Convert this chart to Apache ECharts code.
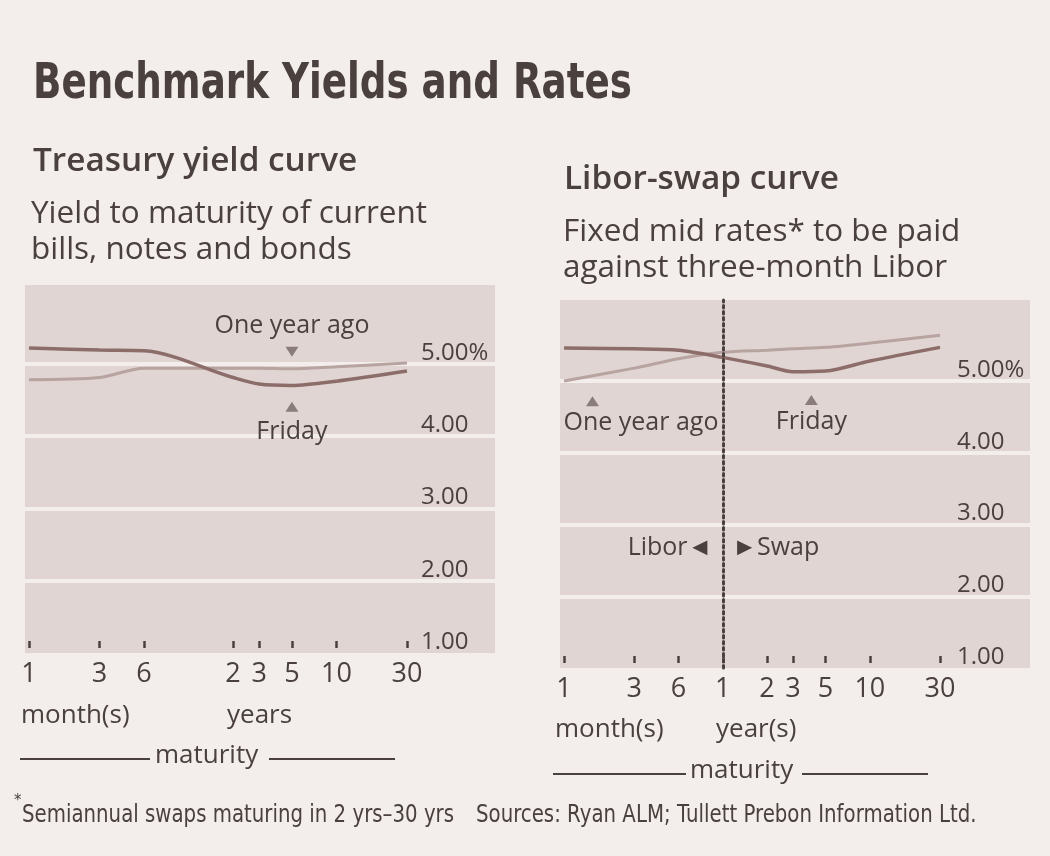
<!DOCTYPE html>
<html>
<head>
<meta charset="utf-8">
<script src="https://cdn.jsdelivr.net/npm/echarts@6/dist/echarts.min.js"></script>
<style>
html,body{margin:0;padding:0;background:#f3eeeb;}
#chart{width:1050px;height:856px;}
</style>
</head>
<body>
<div id="chart"></div>
<script>
// ---------------- DATA ----------------
// maturities in years
const treasuryMaturities = [1/12, 0.25, 0.5, 2, 3, 5, 10, 30];
const treasuryFriday     = [5.22, 5.19, 5.18, 4.81, 4.72, 4.70, 4.76, 4.90];
const treasuryYearAgo    = [4.78, 4.81, 4.94, 4.94, 4.94, 4.93, 4.96, 5.01];

const swapMaturities = [1/12, 0.25, 0.5, 1, 2, 3, 5, 10, 30];
const swapFriday     = [5.46, 5.45, 5.43, 5.33, 5.21, 5.13, 5.14, 5.28, 5.47];
const swapYearAgo    = [5.00, 5.18, 5.31, 5.40, 5.43, 5.45, 5.47, 5.53, 5.64];

const treasuryTickValues = [1/12, 0.25, 0.5, 2, 3, 5, 10, 30];
const treasuryTickLabels = ['1', '3', '6', '2', '3', '5', '10', '30'];
const swapTickValues = [1/12, 0.25, 0.5, 1, 2, 3, 5, 10, 30];
const swapTickLabels = ['1', '3', '6', '1', '2', '3', '5', '10', '30'];

const rateTicks = [1, 2, 3, 4, 5];
const rateGridLines = [2, 3, 4, 5];

// ---------------- STYLE ----------------
const ink = '#4a403e';
const paper = '#f3eeeb';
const band = '#e0d5d3';
const darkLine = '#8c6d6a';
const lightLine = '#b7a3a0';
const triColor = '#8a7c7a';

const mctx = document.createElement('canvas').getContext('2d');
function hasFont(name) {
  const s = 'mmmmwwwiiilllQQ@@';
  mctx.font = '50px monospace';
  const a = mctx.measureText(s).width;
  mctx.font = '50px "' + name + '", monospace';
  return mctx.measureText(s).width !== a;
}
const OPEN = hasFont('Open Sans') ? '"Open Sans"' : '"DejaVu Sans"';
const CONDENSED = hasFont('Liberation Sans Narrow') ? '"Liberation Sans Narrow"' : '"DejaVu Sans"';
function measure(text, family, weight, size) {
  mctx.font = weight + ' ' + size + 'px ' + family;
  return mctx.measureText(text).width;
}
function fitSize(text, family, weight, width) {
  return 100 * width / measure(text, family, weight, 100);
}

const subSize = fitSize('Libor-swap curve', OPEN, '600', 275);
const bodySize = fitSize('Yield to maturity of current', OPEN, 'normal', 396);

const titleText = 'Benchmark Yields and Rates';
const titleFont = 50;
const titleScale = 599 / measure(titleText, CONDENSED, 'bold', titleFont);
const foot1 = 'Semiannual swaps maturing in 2 yrs\u201330 yrs';
const foot2 = 'Sources: Ryan ALM; Tullett Prebon Information Ltd.';
const footFont = 25;
const footScale = 432 / measure(foot1, CONDENSED, 'normal', footFont);

function txt(x, y, text, size, weight, family, extra) {
  return Object.assign({
    type: 'text', x: x, y: y, silent: true,
    style: {
      text: text, fill: ink, fontSize: size, fontWeight: weight, fontFamily: family,
      verticalAlign: 'middle', textVerticalAlign: 'middle', align: 'left', textAlign: 'left'
    }
  }, extra || {});
}
function hline(x1, x2, y) {
  return { type: 'line', silent: true, shape: { x1: x1, y1: y, x2: x2, y2: y }, style: { stroke: ink, lineWidth: 2 } };
}

function tickLabelFormatter(vals, labels) {
  return function (v) {
    let bi = 0, bd = Infinity;
    vals.forEach(function (t, i) {
      const d = Math.abs(Math.log10(t) - Math.log10(v));
      if (d < bd) { bd = d; bi = i; }
    });
    return labels[bi];
  };
}

function xAxisCfg(gridIndex, min, max, vals, labels) {
  return {
    type: 'log', logBase: 10, gridIndex: gridIndex, min: min, max: max, offset: -5,
    axisLine: { show: false },
    axisTick: { show: true, inside: true, length: 7, customValues: vals, lineStyle: { color: ink, width: 2.5 } },
    axisLabel: {
      show: true, customValues: vals, margin: 13, fontFamily: OPEN, fontSize: 27, color: ink,
      formatter: tickLabelFormatter(vals, labels)
    },
    splitLine: { show: false }, minorTick: { show: false }, minorSplitLine: { show: false }
  };
}
function yAxisCfg(gridIndex, max, margin) {
  return {
    type: 'value', gridIndex: gridIndex, position: 'right', min: 1, max: max, interval: 1,
    axisLine: { show: false },
    axisTick: { show: false, customValues: rateGridLines },
    axisLabel: {
      show: true, inside: true, align: 'left', verticalAlign: 'bottom', lineHeight: 22,
      margin: margin, customValues: rateTicks, fontFamily: OPEN, fontSize: 24, color: ink,
      formatter: function (v) { return v === 5 ? v.toFixed(2) + '%' : v.toFixed(2); }
    },
    splitLine: { show: true, lineStyle: { color: paper, width: 4 } }
  };
}
function zip(xs, ys) { return xs.map(function (x, i) { return [x, ys[i]]; }); }
const lblStyle = { fontFamily: OPEN, fontSize: 25, color: ink };

const chart = echarts.init(document.getElementById('chart'), null, { renderer: 'canvas' });
chart.setOption({
  backgroundColor: paper,
  animation: false,
  grid: [
    { left: 25, top: 285, width: 470, height: 368, show: true, backgroundColor: band, borderWidth: 0 },
    { left: 560, top: 300, width: 470, height: 368, show: true, backgroundColor: band, borderWidth: 0 }
  ],
  xAxis: [
    xAxisCfg(0, 0.0783, 118.1, treasuryTickValues, treasuryTickLabels),
    xAxisCfg(1, 0.0782, 122.7, swapTickValues, swapTickLabels)
  ],
  yAxis: [
    yAxisCfg(0, 6.09, 74),
    yAxisCfg(1, 6.13, 73)
  ],
  series: [
    {
      name: 'One year ago', type: 'line', xAxisIndex: 0, yAxisIndex: 0, z: 3,
      data: zip(treasuryMaturities, treasuryYearAgo), smooth: 0.3, symbol: 'none',
      lineStyle: { color: lightLine, width: 3 },
      markPoint: {
        silent: true,
        data: [{
          coord: [5, 5.166], symbol: 'triangle', symbolRotate: 180, symbolSize: [13, 10],
          itemStyle: { color: triColor },
          label: Object.assign({ show: true, position: 'top', distance: 8, formatter: 'One year ago' }, lblStyle)
        }]
      }
    },
    {
      name: 'Friday', type: 'line', xAxisIndex: 0, yAxisIndex: 0, z: 4,
      data: zip(treasuryMaturities, treasuryFriday), smooth: 0.3, symbol: 'none',
      lineStyle: { color: darkLine, width: 3.5 },
      markPoint: {
        silent: true,
        data: [{
          coord: [5, 4.405], symbol: 'triangle', symbolSize: [13, 10],
          itemStyle: { color: triColor },
          label: Object.assign({ show: true, position: 'bottom', distance: 8, formatter: 'Friday' }, lblStyle)
        }]
      }
    },
    {
      name: 'One year ago', type: 'line', xAxisIndex: 1, yAxisIndex: 1, z: 3,
      data: zip(swapMaturities, swapYearAgo), smooth: 0.3, symbol: 'none',
      lineStyle: { color: lightLine, width: 3 },
      markLine: {
        silent: true, symbol: ['none', 'none'], label: { show: false },
        lineStyle: { type: [2.5, 3.5], cap: 'round', color: ink, width: 3 },
        data: [{ xAxis: 1 }]
      },
      markPoint: {
        silent: true,
        data: [
          {
            coord: [0.13, 4.72], symbol: 'triangle', symbolSize: [13, 10],
            itemStyle: { color: triColor },
            label: Object.assign({ show: true, position: 'bottom', distance: 4, align: 'left', offset: [-29, 0], formatter: 'One year ago' }, lblStyle)
          },
          {
            coord: [1, 2.67], symbol: 'circle', symbolSize: 1, itemStyle: { color: 'rgba(0,0,0,0)' },
            label: Object.assign({ show: true, position: 'left', distance: 10, formatter: 'Libor\u25C4' }, lblStyle)
          },
          {
            coord: [1, 2.67], symbol: 'circle', symbolSize: 1, itemStyle: { color: 'rgba(0,0,0,0)' },
            label: Object.assign({ show: true, position: 'right', distance: 9, formatter: '\u25BASwap' }, lblStyle)
          }
        ]
      }
    },
    {
      name: 'Friday', type: 'line', xAxisIndex: 1, yAxisIndex: 1, z: 4,
      data: zip(swapMaturities, swapFriday), smooth: 0.3, symbol: 'none',
      lineStyle: { color: darkLine, width: 3.5 },
      markPoint: {
        silent: true,
        data: [{
          coord: [4, 4.735], symbol: 'triangle', symbolSize: [13, 10],
          itemStyle: { color: triColor },
          label: Object.assign({ show: true, position: 'bottom', distance: 4, formatter: 'Friday' }, lblStyle)
        }]
      }
    }
  ],
  graphic: [
    txt(33, 85, titleText, titleFont, 'bold', CONDENSED, { scaleX: titleScale }),
    txt(33, 161, 'Treasury yield curve', subSize, '600', OPEN),
    txt(31, 214, 'Yield to maturity of current', bodySize, 'normal', OPEN),
    txt(31, 250, 'bills, notes and bonds', bodySize, 'normal', OPEN),
    txt(564, 179, 'Libor-swap curve', subSize, '600', OPEN),
    txt(563, 232, 'Fixed mid rates* to be paid', bodySize, 'normal', OPEN),
    txt(563, 268, 'against three-month Libor', bodySize, 'normal', OPEN),
    txt(21, 716, 'month(s)', 26, 'normal', OPEN),
    txt(227, 716, 'years', 26, 'normal', OPEN),
    txt(555, 730, 'month(s)', 26, 'normal', OPEN),
    txt(716, 730, 'year(s)', 26, 'normal', OPEN),
    hline(20, 150, 759),
    txt(155, 756, 'maturity', 26, 'normal', OPEN),
    hline(269, 395, 759),
    hline(553, 686, 774),
    txt(690, 771, 'maturity', 26, 'normal', OPEN),
    hline(802, 928, 774),
    txt(14, 801, '*', 15, 'normal', CONDENSED),
    txt(22, 815, foot1, footFont, 'normal', CONDENSED, { scaleX: footScale }),
    txt(476, 815, foot2, footFont, 'normal', CONDENSED, { scaleX: footScale })
  ]
});
</script>
</body>
</html>
